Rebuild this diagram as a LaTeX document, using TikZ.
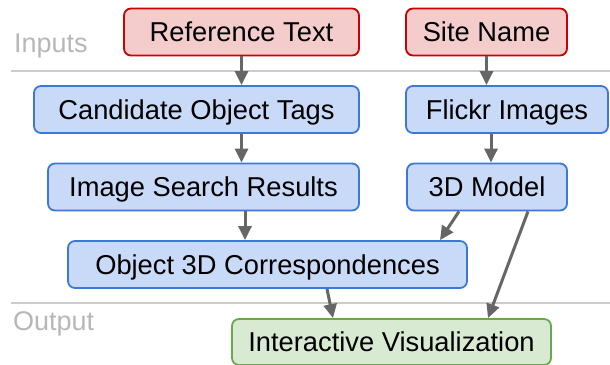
\documentclass[tikz,border=0pt]{standalone}
\usepackage{fontspec}
\setmainfont{Liberation Sans}
\usetikzlibrary{arrows.meta,calc}

\definecolor{inFill}{HTML}{F4CCCC}
\definecolor{inLine}{HTML}{CC0000}
\definecolor{midFill}{HTML}{C9DAF8}
\definecolor{midLine}{HTML}{3C78D8}
\definecolor{outFill}{HTML}{D9EAD3}
\definecolor{outLine}{HTML}{6AA84F}
\definecolor{flowGray}{HTML}{666666}
\definecolor{sepGray}{HTML}{CCCCCC}
\definecolor{labelGray}{HTML}{B7B7B7}

\tikzset{
  box/.style={draw, line width=1.8pt, rounded corners=7pt, inner sep=0pt,
    minimum height=47pt, text height=19.4pt, text depth=0pt,
    font=\fontsize{27.3}{31}\selectfont, text=black},
  inbox/.style={box, fill=inFill, draw=inLine},
  midbox/.style={box, fill=midFill, draw=midLine},
  outbox/.style={box, fill=outFill, draw=outLine},
  flow/.style={draw=flowGray, line width=3pt,
    -{Triangle[length=14pt,width=13pt]}},
  sepline/.style={draw=sepGray, line width=1.5pt},
  stage/.style={anchor=base west, inner sep=0pt, text=labelGray,
    font=\fontsize{27}{31}\selectfont}
}

\begin{document}
\begin{tikzpicture}[x=1pt,y=-1pt]
  \useasboundingbox (0,0) rectangle (610,364);
  \clip (0,0) rectangle (610,364);

  % stage separators and labels
  \draw[sepline] (11,71) -- (610,71);
  \draw[sepline] (11,303) -- (610,303);
  \node[stage] (inputs) at (14,52.7) {Inputs};
  \node[stage] (output) at (13,330) {Output};

  % inputs
  \node[inbox, minimum width=235pt] (ref) at (241.5,32) {Reference Text};
  \node[inbox, minimum width=161pt] (site) at (486.5,32) {Site Name};

  % intermediate steps
  \node[midbox, minimum width=325pt] (tags) at (196.5,109.5) {Candidate Object Tags};
  \node[midbox, minimum width=202pt] (flickr) at (507,109.5) {Flickr Images};
  \node[midbox, minimum width=311pt] (search) at (203.5,187) {Image Search Results};
  \node[midbox, minimum width=160pt] (model) at (487,187) {3D Model};
  \node[midbox, minimum width=399pt] (corr) at (267.5,264.5) {Object 3D Correspondences};

  % output
  \node[outbox, minimum width=319pt, minimum height=46pt] (vis) at (391.5,342) {Interactive Visualization};

  % connectors
  \draw[flow] (ref.south) -- (ref.south |- tags.north);
  \draw[flow] (site.south) -- (site.south |- flickr.north);
  \draw[flow] (tags.south -| ref.south) -- (search.north -| ref.south);
  \draw[flow] ([xshift=4pt]flickr.south -| model.north) -- ([xshift=4pt]model.north);
  \draw[flow] ([xshift=41.5pt]search.south) -- ([xshift=41.5pt]search.south |- corr.north);
  \draw[flow] ([xshift=-28pt]model.south) -- ([xshift=172.5pt]corr.north);
  \draw[flow] ([xshift=41pt]model.south) -- ([xshift=96.5pt]vis.north);
  \draw[flow] ([xshift=59.5pt]corr.south) -- ([xshift=-58.5pt]vis.north);
\end{tikzpicture}
\end{document}
